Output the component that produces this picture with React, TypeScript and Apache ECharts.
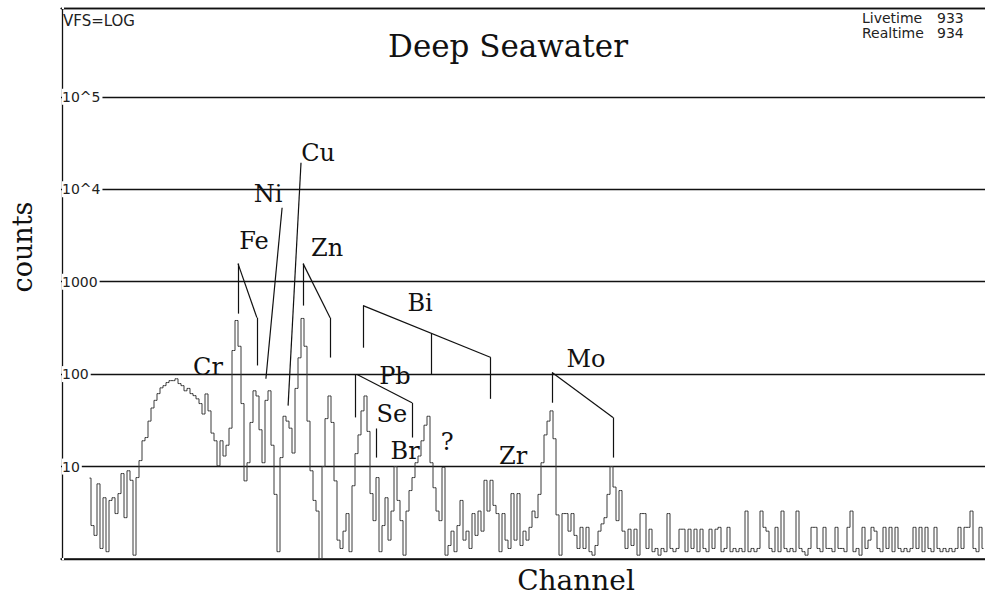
import React, { useEffect, useRef } from 'react';
import * as echarts from 'echarts';

// Spectrum: counts per channel, starting at channel 9 (channels 0..307 on the axis)
const firstChannel = 9;
const counts = [
  7.5, 2.3, 1.8, 6.5, 1.3, 4.6, 1.2, 4.3, 4.6, 3.1,
  5.1, 8.4, 2.8, 9.0, 7.1, 1.1, 7.6, 11.6, 19, 20.6,
  31, 43, 52, 61.5, 71, 75, 81, 85, 85, 89,
  79, 75, 66, 70, 61.5, 58.5, 54, 48, 37, 61,
  40, 23, 19, 10.2, 19, 13, 17, 26, 180, 380,
  200, 48, 7, 11, 30, 66, 58, 25, 11, 52,
  66, 17, 5, 1.2, 12.5, 35, 31, 26, 14, 70,
  150, 400, 200, 31, 9.0, 4.3, 3.3, 1.0, 10, 33,
  58, 30, 7, 1.6, 1.3, 2.0, 3.1, 1.2, 6.2, 13.8,
  22, 40, 58, 24, 5.1, 2.6, 7.6, 1.2, 2.3, 4.6,
  1.6, 3.3, 10, 4.3, 2.6, 1.1, 3.3, 5.5, 7.6, 11,
  13, 19, 28, 35, 11, 5.9, 3.3, 2.6, 9.8, 1.1,
  1.4, 2.0, 1.2, 2.3, 4.3, 1.6, 2.0, 1.3, 3.1, 1.8,
  3.3, 2.0, 7.1, 3.3, 7.1, 3.8, 3.1, 1.2, 3.1, 1.6,
  1.3, 5.1, 1.6, 5.1, 1.4, 2.0, 1.6, 2.2, 3.3, 2.8,
  5.0, 11, 22, 31, 40, 20, 3.0, 1.1, 3.1, 3.1,
  2.0, 3.1, 1.8, 1.3, 2.2, 1.3, 2.2, 1.2, 1.1, 1.4,
  2.0, 2.4, 2.8, 5.0, 10, 6.0, 2.6, 5.5, 2.0, 1.3,
  2.1, 1.4, 2.1, 1.1, 3.1, 3.1, 1.3, 2.1, 1.2, 1.3,
  1.1, 1.3, 1.2, 3.1, 1.3, 1.2, 1.3, 2.1, 2.1, 1.2,
  2.1, 1.3, 2.1, 1.2, 2.1, 1.3, 1.2, 2.1, 1.3, 2.1,
  2.2, 1.2, 1.3, 2.2, 1.2, 1.3, 1.2, 1.3, 1.2, 3.3,
  1.2, 1.3, 1.2, 1.3, 3.3, 2.2, 2.0, 1.3, 1.2, 2.2,
  1.2, 3.3, 1.3, 1.2, 1.3, 1.2, 3.3, 1.3, 1.2, 1.1,
  1.3, 2.2, 2.2, 1.3, 1.2, 2.2, 1.3, 1.3, 1.2, 2.2,
  1.3, 1.3, 1.2, 2.2, 3.3, 1.2, 1.3, 1.1, 2.2, 1.3,
  1.6, 2.2, 2.0, 1.3, 1.2, 2.2, 1.3, 2.2, 1.2, 2.2,
  1.3, 1.2, 1.3, 1.2, 1.3, 2.2, 1.3, 2.2, 1.2, 2.2,
  1.3, 1.2, 2.2, 1.3, 1.2, 1.3, 1.2, 1.3, 1.2, 1.3,
  2.2, 1.3, 2.2, 2.2, 3.3, 1.3, 1.2, 2.2, 1.3,
];

// Y tick labels (log decades)
const tickExponents = [1, 2, 3, 4, 5];
const tickLabels = ['10', '100', '1000', '10^4', '10^5'];

// Element labels: name, channel, counts
const peakNames = ['Fe', 'Ni', 'Cu', 'Zn', 'Cr', 'Bi', 'Pb', 'Se', 'Br', '?', 'Zr', 'Mo'];
const peakLabelChannel = [63.8, 68.5, 85.2, 88.2, 48.5, 119.2, 110.8, 109.8, 114.2, 128.2, 150.2, 174.5];
const peakLabelCount = [2770, 8930, 24800, 2330, 118, 593, 96, 37, 14.9, 18.6, 13, 147];

// Marker line segments: [channel1, count1, channel2, count2]
const markerSegments = [
  // Fe
  [58.5, 1567, 58.5, 451], [58.5, 1567, 64.8, 408], [64.8, 408, 64.8, 124],
  // Zn
  [80.2, 1567, 80.2, 551], [80.2, 1567, 89.2, 408], [89.2, 408, 89.2, 151],
  // Ni
  [73.2, 6310, 67.8, 89],
  // Cu
  [79.5, 19300, 75.2, 45.6],
  // Bi
  [100.2, 551, 100.2, 193], [100.2, 551, 142.8, 151], [122.8, 274, 122.8, 100], [142.5, 151, 142.5, 54],
  // Pb
  [97.5, 100, 97.5, 34], [98.2, 99, 116.5, 49], [116.5, 49, 116.5, 20.6],
  // Se
  [104.5, 25.8, 104.5, 12.5],
  // Mo
  [163.2, 104, 163.2, 49], [163.2, 104, 183.5, 34], [183.5, 34, 183.5, 12.5],
];

export default function App() {
  const ref = useRef<HTMLDivElement>(null);

  useEffect(() => {
    document.body.style.margin = '0';
    document.body.style.overflow = 'hidden';
    if (!ref.current) return;
    const chart = echarts.init(ref.current, null, { renderer: 'svg' });

    const spectrum = counts.map((v, k) => [firstChannel + k, v]);
    const labels = peakNames.map((n, k) => ({ name: n, value: [peakLabelChannel[k], peakLabelCount[k]] }));

    const option = {
      animation: false,
      backgroundColor: '#ffffff',
      grid: { left: 61, right: 0, top: 8, bottom: 40 },
      xAxis: [
        {
          type: 'value', min: -0.5, max: 307.5,
          axisLine: { show: true, onZero: false, lineStyle: { color: '#111', width: 1.6 } },
          axisTick: { show: false }, axisLabel: { show: false }, splitLine: { show: false },
        },
        {
          type: 'value', position: 'top', min: -0.5, max: 307.5,
          axisLine: { show: true, onZero: false, lineStyle: { color: '#111', width: 1.3 } },
          axisTick: { show: false }, axisLabel: { show: false }, splitLine: { show: false },
        },
      ],
      yAxis: {
        type: 'log', logBase: 10, min: 1, max: 912000,
        axisLine: { show: true, lineStyle: { color: '#111', width: 1.3 } },
        axisTick: { show: false },
        splitLine: { show: true, lineStyle: { color: '#111', width: 1.3 } },
        axisLabel: {
          inside: true, margin: 1,
          fontFamily: 'DejaVu Sans', fontSize: 14, color: '#222',
          backgroundColor: '#ffffff', padding: [1, 2, 1, 0],
          formatter: (v: number) => {
            const e = Math.log10(v);
            const r = Math.round(e);
            if (Math.abs(e - r) > 0.01) return '';
            const idx = tickExponents.indexOf(r);
            return idx >= 0 ? tickLabels[idx] : '';
          },
        },
      },
      series: [
        {
          type: 'line', step: 'middle', data: spectrum, symbol: 'none', silent: true,
          lineStyle: { color: '#3a3a3a', width: 1 },
          markLine: {
            silent: true, symbol: ['none', 'none'], label: { show: false },
            lineStyle: { color: '#111', width: 1.2, type: 'solid' },
            data: markerSegments.map((s) => [{ coord: [s[0], s[1]] }, { coord: [s[2], s[3]] }]),
          },
        },
        {
          type: 'scatter', data: labels, symbolSize: 1, silent: true,
          itemStyle: { color: '#ffffff', opacity: 1 },
          label: {
            show: true, position: 'inside', formatter: '{b}',
            fontFamily: 'DejaVu Serif', fontSize: 24, color: '#111',
            opacity: 1, textBorderWidth: 0,
          },
        },
      ],
      graphic: [
        { type: 'text', left: 63, top: 13, style: { text: 'VFS=LOG', font: '15px "DejaVu Sans"', fill: '#222' } },
        { type: 'text', left: 862, top: 11, style: { text: 'Livetime', font: '14px "DejaVu Sans"', fill: '#222' } },
        { type: 'text', left: 937, top: 11, style: { text: '933', font: '14px "DejaVu Sans"', fill: '#222' } },
        { type: 'text', left: 862, top: 26, style: { text: 'Realtime', font: '14px "DejaVu Sans"', fill: '#222' } },
        { type: 'text', left: 937, top: 26, style: { text: '934', font: '14px "DejaVu Sans"', fill: '#222' } },
        {
          type: 'text', x: 508, y: 46,
          style: { text: 'Deep Seawater', font: '31px "DejaVu Serif"', fill: '#111', textAlign: 'center', textVerticalAlign: 'middle' },
        },
        {
          type: 'text', x: 22, y: 247, rotation: Math.PI / 2,
          style: { text: 'counts', font: '27px "DejaVu Serif"', fill: '#111', textAlign: 'center', textVerticalAlign: 'middle' },
        },
        {
          type: 'text', x: 576, y: 580,
          style: { text: 'Channel', font: '28px "DejaVu Serif"', fill: '#111', textAlign: 'center', textVerticalAlign: 'middle' },
        },
      ],
    };

    chart.setOption(option as any);
    return () => chart.dispose();
  }, []);

  return <div ref={ref} style={{ width: 985, height: 599 }} />;
}
